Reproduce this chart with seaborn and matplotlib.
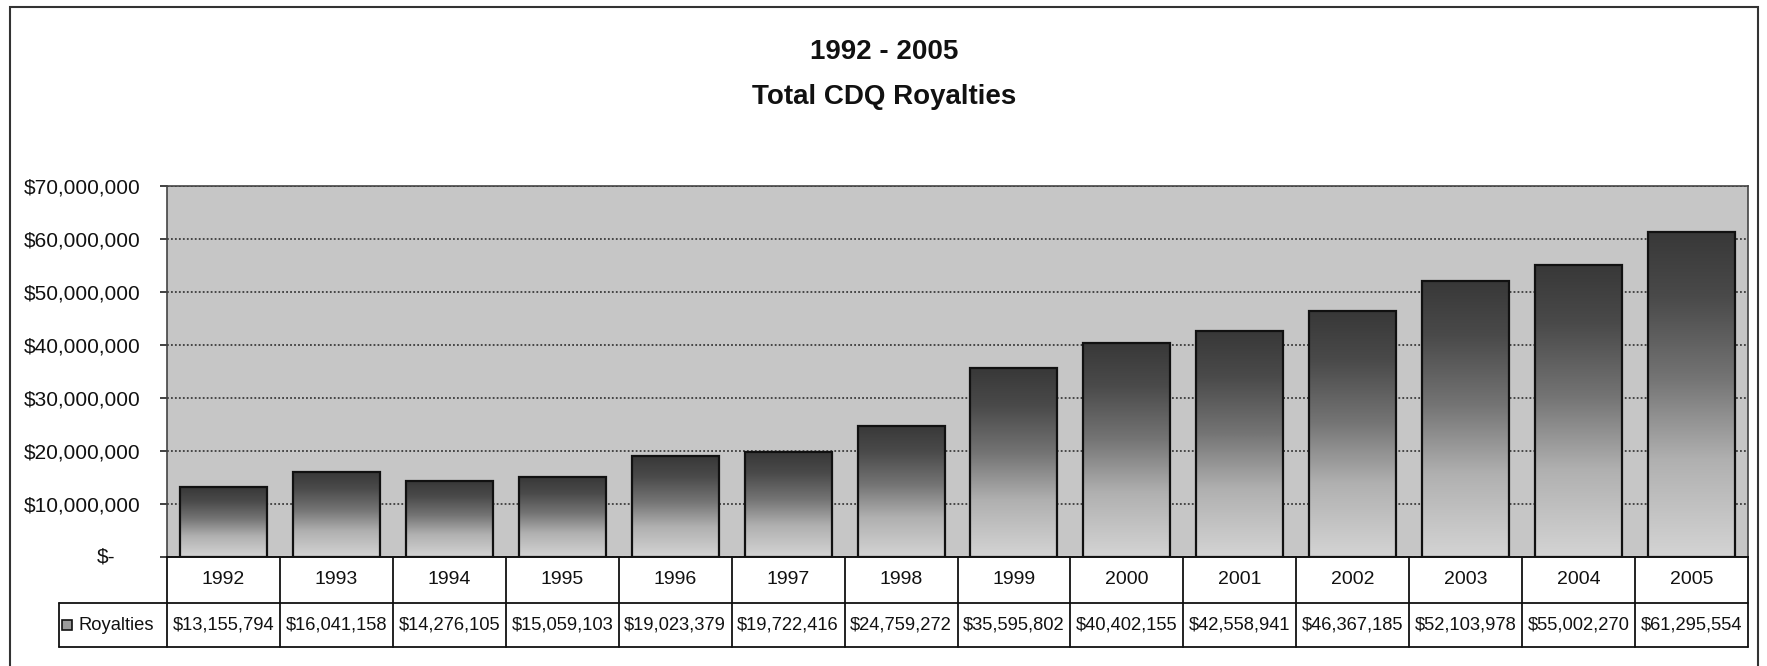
import numpy as np
import pandas as pd
import seaborn as sns
import matplotlib
matplotlib.use("Agg")
import matplotlib.pyplot as plt
from matplotlib.colors import LinearSegmentedColormap
from matplotlib.patches import Rectangle
from matplotlib.ticker import FixedLocator, FuncFormatter

# Annual totals
years = ["1992", "1993", "1994", "1995", "1996", "1997", "1998",
         "1999", "2000", "2001", "2002", "2003", "2004", "2005"]
royalties = [13155794, 16041158, 14276105, 15059103, 19023379, 19722416, 24759272,
             35595802, 40402155, 42558941, 46367185, 52103978, 55002270, 61295554]
series_name = "Royalties"
title_lines = ["1992 - 2005", "Total CDQ Royalties"]
y_ticks = [0, 10000000, 20000000, 30000000, 40000000, 50000000, 60000000, 70000000]

sns.set_theme(style="white")
plt.rcParams["font.family"] = ["Liberation Sans", "DejaVu Sans"]

df = pd.DataFrame({"year": years, "value": royalties})

fig = plt.figure(figsize=(17.67, 6.66), dpi=100)
W, H = 1767, 666
ax = fig.add_axes([167 / W, 1 - 557 / H, (1748 - 167) / W, (557 - 186) / H])

plot_bg = "#c6c6c6"
ax.set_facecolor(plot_bg)

sns.barplot(data=df, x="year", y="value", ax=ax, width=0.77, color="#888888",
            edgecolor="#111111", linewidth=1.6, saturation=1, zorder=3)

# vertical gradient inside each bar: dark at the top, light at the base
grad_cmap = LinearSegmentedColormap.from_list(
    "bar_grad", [(0.0, "#d4d4d4"), (0.3, "#b0b0b0"), (0.55, "#747474"),
                 (0.8, "#4a4a4a"), (1.0, "#383838")])
grad = np.linspace(0, 1, 256).reshape(-1, 1)
for p in ax.patches:
    x0, w, h = p.get_x(), p.get_width(), p.get_height()
    im = ax.imshow(grad, extent=[x0, x0 + w, 0, h], origin="lower", aspect="auto",
                   cmap=grad_cmap, zorder=2.5, interpolation="bilinear")
    im.set_clip_path(p)
    p.set_facecolor("none")
    p.set_zorder(3)

ax.set_xlim(-0.5, len(years) - 0.5)
ax.set_ylim(0, 70000000)
ax.set_xlabel("")
ax.set_ylabel("")

# y axis: dollar ticks, accounting-style zero
ax.yaxis.set_major_locator(FixedLocator(y_ticks))
ax.yaxis.set_major_formatter(FuncFormatter(lambda v, _: "" if v == 0 else f"${v:,.0f}"))
ax.tick_params(axis="y", which="major", left=True, length=5, width=1.2, color="#222222",
               pad=14, labelsize=15, labelcolor="#111111")
ax.tick_params(axis="x", bottom=False, labelbottom=False)
ax.text((115 - 167) / (1748 - 167), 0, "$-", transform=ax.get_yaxis_transform(),
        ha="right", va="center", fontsize=15, color="#111111")

# dotted horizontal gridlines behind the bars
ax.yaxis.grid(True, color="#3c3c3c", linestyle=(0, (1, 1.2)), linewidth=1.3, zorder=1)
ax.xaxis.grid(False)
ax.set_axisbelow(True)

for side in ["left", "top", "right"]:
    ax.spines[side].set_visible(True)
    ax.spines[side].set_color("#444444")
    ax.spines[side].set_linewidth(1.2)
ax.spines["bottom"].set_color("#111111")
ax.spines["bottom"].set_linewidth(1.4)

# data table under the plot
ax_h = 557 - 186
row1 = (603 - 557) / ax_h
row2 = (647 - 557) / ax_h
xt = ax.get_xaxis_transform()
line_kw = dict(color="#111111", linewidth=1.3, clip_on=False)
n = len(years)
for i in range(n + 1):
    ax.plot([i - 0.5, i - 0.5], [0, -row2], transform=xt, **line_kw)
legend_left = (59 - 167) / (1748 - 167)
ax.plot([legend_left, 1], [-row1, -row1], transform=ax.transAxes, **line_kw)
ax.plot([legend_left, 1], [-row2, -row2], transform=ax.transAxes, **line_kw)
ax.plot([legend_left, legend_left], [-row1, -row2], transform=ax.transAxes, **line_kw)

for i, (yr, val) in enumerate(zip(years, royalties)):
    ax.text(i, -row1 / 2, yr, transform=xt, ha="center", va="center",
            fontsize=14, color="#111111")
    ax.text(i, -(row1 + row2) / 2, f"${val:,.0f}", transform=xt, ha="center", va="center",
            fontsize=13.2, color="#111111")

# legend key and series name in the first column
key_x = (62 - 167) / (1748 - 167)
key_w = 10 / (1748 - 167)
key_h = 10 / ax_h
ax.add_patch(Rectangle((key_x, -(row1 + row2) / 2 - key_h / 2), key_w, key_h,
                       transform=ax.transAxes, facecolor="#9a9a9a", edgecolor="#111111",
                       linewidth=1.2, clip_on=False))
ax.text((78 - 167) / (1748 - 167), -(row1 + row2) / 2, series_name, transform=ax.transAxes,
        ha="left", va="center", fontsize=13.2, color="#111111")

# titles
fig.text(884 / W, 1 - 52 / H, title_lines[0], ha="center", va="center",
         fontsize=20, fontweight="bold", color="#111111")
fig.text(884 / W, 1 - 97 / H, title_lines[1], ha="center", va="center",
         fontsize=20, fontweight="bold", color="#111111")

# outer chart frame (runs off the lower edge)
fig.patches.append(Rectangle((10 / W, -0.05), (1758 - 10) / W, 1.05 - 7 / H,
                             transform=fig.transFigure, fill=False,
                             edgecolor="#333333", linewidth=1.5))

fig.savefig("out.png", dpi=100, facecolor="white")
